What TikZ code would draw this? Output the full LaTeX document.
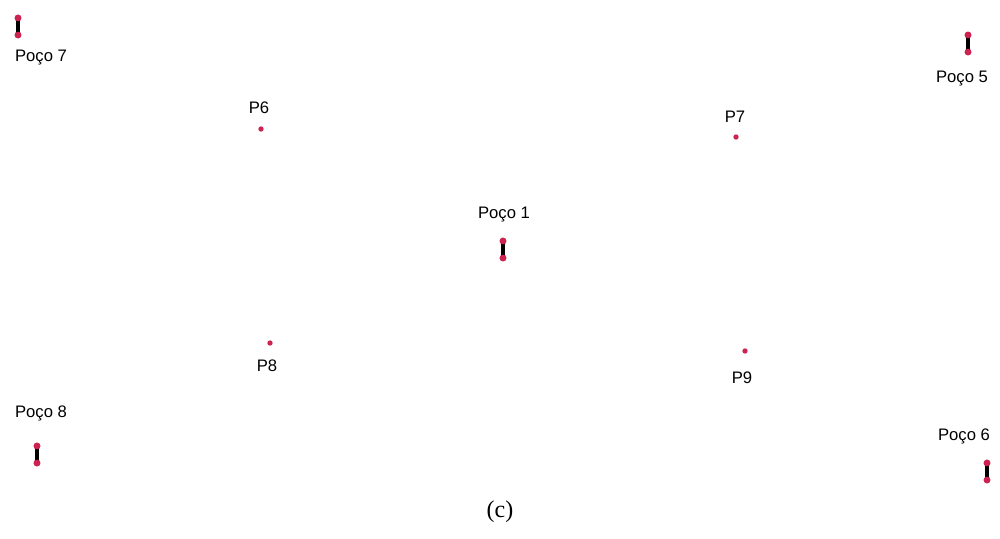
\documentclass[tikz,border=0pt]{standalone}
\usepackage{fontspec}
\setmainfont{Liberation Serif}
\newfontfamily\lab{Liberation Sans}
\definecolor{welldot}{RGB}{205,35,80}
\begin{document}
\begin{tikzpicture}[x=0.75pt,y=-0.75pt,
  lbl/.style={font=\lab\fontsize{12.5}{14}\selectfont,inner sep=0pt,text=black},
  pdot/.style={circle,fill=welldot,draw=none,minimum size=4pt,inner sep=0pt},
  edot/.style={circle,fill=welldot,draw=none,minimum size=5pt,inner sep=0pt},
  wellline/.style={line width=2.3pt,black}]
\useasboundingbox (0,0) rectangle (1000,539);
\fill[white] (0,0) rectangle (1000,539);
% wells
\foreach \n/\x/\y in {w7/18/18, w5/968/35, w1/503/241, w8/37/446, w6/987/463}{
  \node[edot] (\n t) at (\x,\y) {};
  \node[edot] (\n b) at (\x,\y+17) {};
  \draw[wellline] (\n t.center) -- (\n b.center);
  \node[edot] at (\n t) {};
  \node[edot] at (\n b) {};
}
\node[lbl] (l7) at (41,58) {Poço 7};
\node[lbl] (l5) at (962,79) {Poço 5};
\node[lbl] (l1) at (504,215) {Poço 1};
\node[lbl] (l8) at (41,413) {Poço 8};
\node[lbl] (l6) at (964,436) {Poço 6};
% points
\node[pdot] (p6) at (261,129) {};
\node[lbl] (lp6) at (259,108) {P6};
\node[pdot] (p7) at (736,137) {};
\node[lbl] (lp7) at (735,117) {P7};
\node[pdot] (p8) at (270,343) {};
\node[lbl] (lp8) at (267,366) {P8};
\node[pdot] (p9) at (745,351) {};
\node[lbl] (lp9) at (742,378) {P9};
\node[font=\fontsize{18}{20}\selectfont,inner sep=0pt] (cap) at (500,512) {(c)};
\end{tikzpicture}
\end{document}
